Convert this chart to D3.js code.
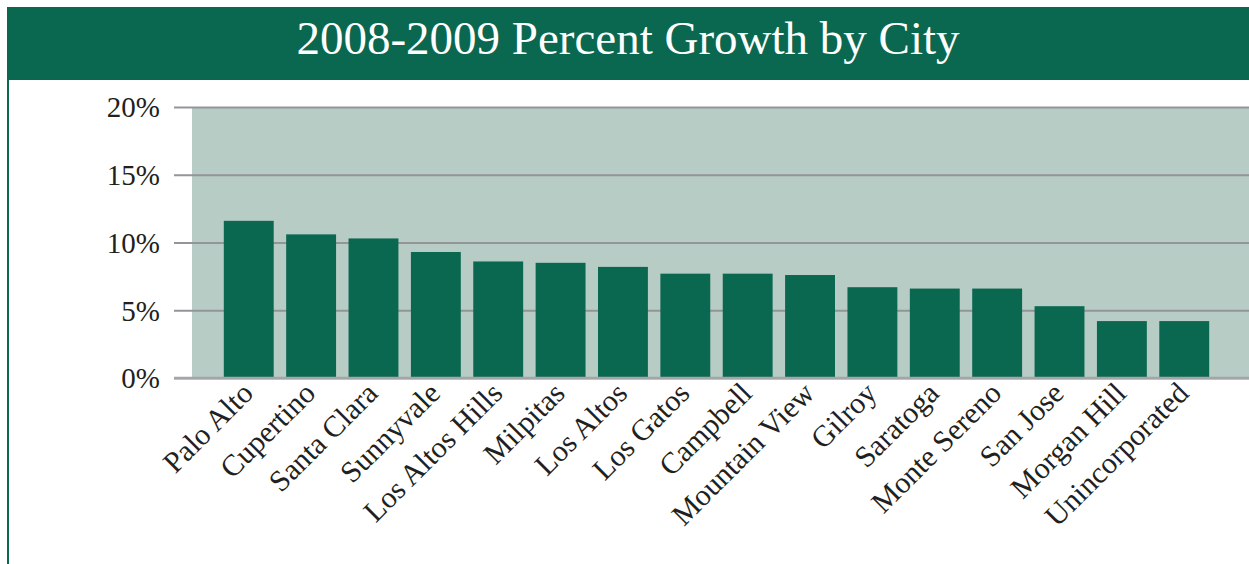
<!DOCTYPE html>
<html>
<head>
<meta charset="utf-8">
<script src="https://cdn.jsdelivr.net/npm/d3@7"></script>
<style>
  html, body { margin: 0; padding: 0; background: #ffffff; }
  svg { display: block; }
</style>
</head>
<body>
<svg id="chart" width="1249" height="564"></svg>
<script>
// Percent growth 2008-2009 for each city
const cities = [
  "Palo Alto", "Cupertino", "Santa Clara", "Sunnyvale", "Los Altos Hills",
  "Milpitas", "Los Altos", "Los Gatos", "Campbell", "Mountain View",
  "Gilroy", "Saratoga", "Monte Sereno", "San Jose", "Morgan Hill", "Unincorporated"
];
const growth = [11.6, 10.6, 10.3, 9.3, 8.6, 8.5, 8.2, 7.7, 7.7, 7.6, 6.7, 6.6, 6.6, 5.3, 4.2, 4.2];
const yTicks = [0, 5, 10, 15, 20];
const title = "2008-2009 Percent Growth by City";

const W = 1249, H = 564;
const green = "#0b6850";
const plotBg = "#b7ccc5";
const gridColor = "#939598";
const textColor = "#231f20";
const serif = "'Liberation Serif', 'Times New Roman', serif";

const svg = d3.select("#chart");

// Header band with title
svg.append("rect")
  .attr("x", 7).attr("y", 7)
  .attr("width", W - 7).attr("height", 73)
  .attr("fill", green);

svg.append("text")
  .attr("x", 628).attr("y", 54)
  .attr("text-anchor", "middle")
  .attr("fill", "#ffffff")
  .style("font-family", serif)
  .style("font-size", "47px")
  .text(title);

// Left frame rule
svg.append("rect")
  .attr("x", 7).attr("y", 80)
  .attr("width", 2).attr("height", H - 80)
  .attr("fill", green);

// Scales
const x = d3.scaleBand()
  .domain(cities)
  .range([192, 1241])
  .paddingInner(0.2)
  .paddingOuter(0.51);

const y = d3.scaleLinear()
  .domain([0, 20])
  .range([378, 107]);

// Plot background
svg.append("rect")
  .attr("x", 192).attr("y", y(20))
  .attr("width", W - 192).attr("height", y(0) - y(20))
  .attr("fill", plotBg);

// Gridlines and y labels via an axis
const yAxis = d3.axisLeft(y)
  .tickValues(yTicks)
  .tickSize(-(W - 174))
  .tickPadding(14)
  .tickFormat(d => d + "%");

const gy = svg.append("g")
  .attr("transform", "translate(174,0)")
  .call(yAxis);

gy.select(".domain").remove();
gy.selectAll(".tick line")
  .attr("stroke", gridColor)
  .attr("stroke-width", 2)
  .attr("x1", 0)
  .attr("x2", W - 174);
gy.selectAll(".tick text")
  .attr("x", -14)
  .attr("dy", "0.34em")
  .attr("fill", textColor)
  .style("font-family", serif)
  .style("font-size", "29px");

// Bars
svg.append("g")
  .selectAll("rect")
  .data(cities)
  .join("rect")
  .attr("x", d => x(d))
  .attr("y", (d, i) => y(growth[i]))
  .attr("width", x.bandwidth())
  .attr("height", (d, i) => y(0) - y(growth[i]) - 1)
  .attr("fill", green);

// Baseline
svg.append("line")
  .attr("x1", 174).attr("x2", W)
  .attr("y1", y(0)).attr("y2", y(0))
  .attr("stroke", "#a3a5a8")
  .attr("stroke-width", 2.5);

// Rotated category labels
svg.append("g")
  .selectAll("text")
  .data(cities)
  .join("text")
  .attr("transform", d => `translate(${x(d) + x.bandwidth() / 2 + 6},395) rotate(-45)`)
  .attr("text-anchor", "end")
  .attr("fill", textColor)
  .style("font-family", serif)
  .style("font-size", "30px")
  .text(d => d);
</script>
</body>
</html>
